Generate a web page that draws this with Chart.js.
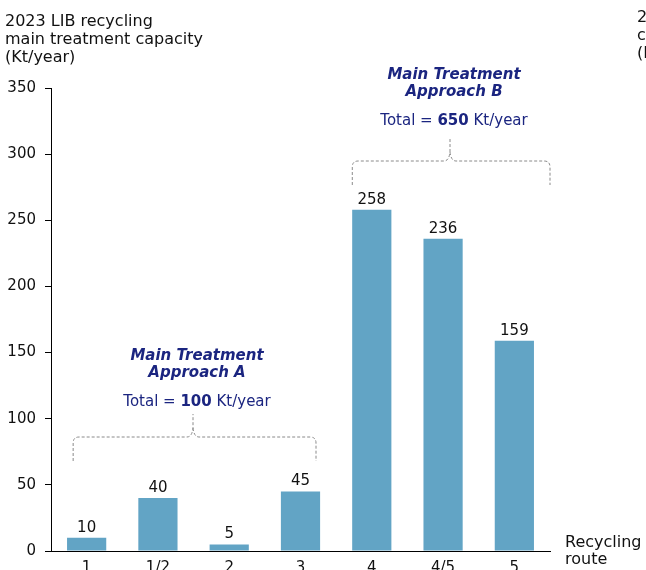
<!DOCTYPE html>
<html>
<head>
<meta charset="utf-8">
<script src="https://cdn.jsdelivr.net/npm/chart.js@4.4.1/dist/chart.umd.min.js"></script>
<style>
  body { margin: 0; background: #fff; }
  canvas { display: block; }
</style>
</head>
<body>
<canvas id="capacity-chart" width="646" height="570"></canvas>
<script>
const routes = ["1", "1/2", "2", "3", "4", "4/5", "5"];
const capacity = [10, 40, 5, 45, 258, 236, 159];
const yTicks = [0, 50, 100, 150, 200, 250, 300, 350];
const titleLines = ["2023 LIB recycling", "main treatment capacity", "(Kt/year)"];
const nextTitleLines = ["2023 LIB recycling", "capacity", "(Kt/year)"];
const axisTitle = ["Recycling", "route"];
// treatment approach groups: first/last route index, heading, total
const groups = [
    { from: 0, to: 3, name: ["Main Treatment", "Approach A"], total: 100 },
    { from: 4, to: 6, name: ["Main Treatment", "Approach B"], total: 650 },
];

const FONT = "'DejaVu Sans', sans-serif";
const NAVY = "#1b2580";
const BAR = "#62a4c5";

const canvas = document.querySelector("#capacity-chart");

const valueLabels = {
    id: "valueLabels",
    afterDatasetsDraw(chart) {
        const ctx = chart.ctx;
        const meta = chart.getDatasetMeta(0);
        ctx.save();
        ctx.font = "15px " + FONT;
        ctx.fillStyle = "#111";
        ctx.textAlign = "center";
        ctx.textBaseline = "alphabetic";
        meta.data.forEach((bar, i) => {
            ctx.fillText(String(capacity[i]), bar.x, bar.y - 6);
        });
        ctx.restore();
    },
};

function drawBracket(ctx, left, right, center, lineY, footY, topY) {
    const r = 6;
    ctx.beginPath();
    ctx.moveTo(left, footY);
    ctx.lineTo(left, lineY + r);
    ctx.quadraticCurveTo(left, lineY, left + r, lineY);
    ctx.lineTo(center - 6, lineY);
    ctx.quadraticCurveTo(center - 1, lineY, center, lineY - 9);
    ctx.lineTo(center, topY);
    ctx.moveTo(center, lineY - 9);
    ctx.quadraticCurveTo(center + 1, lineY, center + 6, lineY);
    ctx.lineTo(right - r, lineY);
    ctx.quadraticCurveTo(right, lineY, right, lineY + r);
    ctx.lineTo(right, footY);
    ctx.stroke();
}

function drawTotal(ctx, cx, y, total) {
    const parts = [
        { t: "Total = ", f: "15px " + FONT },
        { t: String(total), f: "bold 15px " + FONT },
        { t: " Kt/year", f: "15px " + FONT },
    ];
    let w = 0;
    parts.forEach(p => { ctx.font = p.f; p.w = ctx.measureText(p.t).width; w += p.w; });
    let x = cx - w / 2;
    ctx.textAlign = "left";
    parts.forEach(p => { ctx.font = p.f; ctx.fillText(p.t, x, y); x += p.w; });
}

const annotations = {
    id: "annotations",
    afterDraw(chart) {
        const ctx = chart.ctx;
        const x = chart.scales.x;
        const area = chart.chartArea;
        ctx.save();
        ctx.textBaseline = "alphabetic";

        // y axis title
        ctx.fillStyle = "#111";
        ctx.font = "16px " + FONT;
        ctx.textAlign = "left";
        titleLines.forEach((line, i) => ctx.fillText(line, 5, 26 + i * 18));
        // title of the next panel, cut by the edge
        nextTitleLines.forEach((line, i) => ctx.fillText(line, 637, 22 + i * 18));
        // x axis title
        axisTitle.forEach((line, i) => ctx.fillText(line, area.right + 15, area.bottom - 4 + i * 17));

        groups.forEach((g, gi) => {
            const step = x.getPixelForValue(1) - x.getPixelForValue(0);
            const left = x.getPixelForValue(g.from) - (gi === 0 ? 13.5 : 19.5);
            const right = gi === 0 ? x.getPixelForValue(g.to) + 15.5 : x.getPixelForValue(g.to) + step / 2;
            const center = gi === 0 ? 193 : 450;
            const lineY = gi === 0 ? 437 : 161;
            ctx.strokeStyle = "#8a8a8a";
            ctx.lineWidth = 1;
            ctx.setLineDash([3, 2]);
            drawBracket(ctx, left, right, center, lineY, lineY + 24, lineY - 23);
            ctx.setLineDash([]);

            const textX = center + 4;
            const top = lineY - (gi === 0 ? 77 : 82);
            ctx.fillStyle = NAVY;
            ctx.textAlign = "center";
            ctx.font = "italic bold 15px " + FONT;
            ctx.fillText(g.name[0], textX, top);
            ctx.fillText(g.name[1], textX, top + 17);
            drawTotal(ctx, textX, top + 46, g.total);
        });
        ctx.restore();
    },
};

new Chart(canvas, {
    type: "bar",
    data: {
        labels: routes,
        datasets: [{
            data: capacity,
            backgroundColor: BAR,
            barPercentage: 0.55,
            categoryPercentage: 1,
        }],
    },
    options: {
        responsive: false,
        animation: false,
        layout: { padding: { top: 88, right: 96, left: 0, bottom: 0 } },
        plugins: { legend: { display: false }, tooltip: { enabled: false } },
        scales: {
            x: {
                grid: { drawOnChartArea: false, drawTicks: false },
                border: { color: "#000", width: 1 },
                ticks: { font: { family: FONT, size: 15 }, color: "#111", padding: 8 },
                afterFit: s => { s.height = 19; },
            },
            y: {
                min: 0,
                max: 350,
                afterBuildTicks: s => { s.ticks = yTicks.map(v => ({ value: v })); },
                grid: { drawOnChartArea: false, tickLength: 6, color: "#000" },
                border: { color: "#000", width: 1 },
                ticks: { font: { family: FONT, size: 15 }, color: "#111", padding: 9 },
                afterFit: s => { s.width = 51; },
            },
        },
    },
    plugins: [valueLabels, annotations],
});
</script>
</body>
</html>
